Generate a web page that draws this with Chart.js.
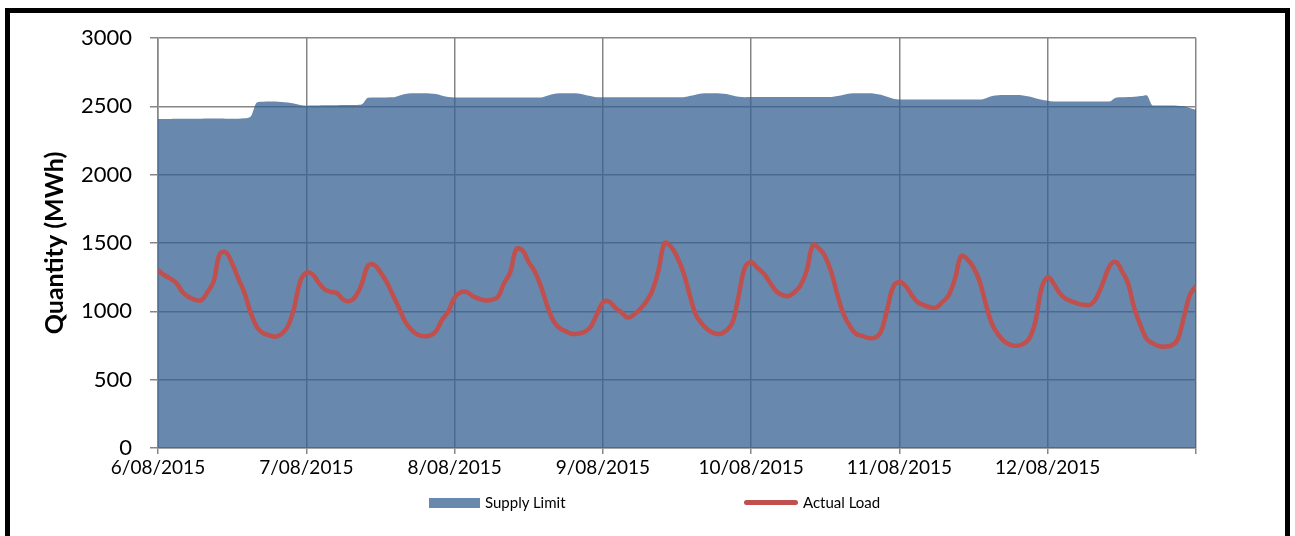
<!DOCTYPE html>
<html>
<head>
<meta charset="utf-8">
<script src="https://cdn.jsdelivr.net/npm/chart.js@4.4.1/dist/chart.umd.min.js"></script>
<style>
  html, body { margin: 0; padding: 0; background: #fff; }
  #wrap { position: relative; width: 1295px; height: 536px; overflow: hidden; }
  #frame { position: absolute; left: 5px; top: 8px; width: 1285px; height: 600px; border: 5px solid #000; box-sizing: border-box; }
  #chart { position: absolute; left: 0; top: 0; }
  .lg-text { position: absolute; font-family: Lato, sans-serif; font-size: 15px; color: #000; line-height: 15px; }
</style>
</head>
<body>
<div id="wrap">
  <div id="frame"></div>
  <canvas id="chart" width="1295" height="536"></canvas>
  <div style="position:absolute;left:429px;top:498px;width:51px;height:10px;background:#6888ad;"></div>
  <div class="lg-text" style="left:485px;top:495px;">Supply Limit</div>
  <div style="position:absolute;left:744px;top:500px;width:54px;height:5px;border-radius:3px;background:#c0504d;"></div>
  <div class="lg-text" style="left:803px;top:495px;">Actual Load</div>
</div>
<script>
// day labels under each midnight tick
const dayLabels = ['6/08/2015', '7/08/2015', '8/08/2015', '9/08/2015', '10/08/2015', '11/08/2015', '12/08/2015'];

// hourly values, 6/08 00:00 -> 13/08 00:00 (MWh)
const supplyLimit = [
  2408, 2408, 2408, 2409, 2409, 2410, 2410, 2410, 2411, 2411, 2411, 2410, 2410, 2410, 2412, 2425, 2528, 2533, 2535, 2535, 2532, 2528, 2520, 2510,
  2505, 2506, 2507, 2508, 2508, 2508, 2509, 2509, 2510, 2515, 2562, 2565, 2565, 2565, 2566, 2578, 2590, 2595, 2595, 2595, 2594, 2590, 2578, 2568,
  2565, 2565, 2565, 2565, 2565, 2565, 2565, 2565, 2565, 2565, 2565, 2565, 2565, 2565, 2565, 2578, 2590, 2595, 2595, 2595, 2593, 2585, 2575, 2567,
  2566, 2566, 2566, 2566, 2566, 2566, 2566, 2566, 2566, 2566, 2566, 2566, 2566, 2566, 2575, 2585, 2593, 2595, 2595, 2594, 2590, 2580, 2570, 2567,
  2568, 2568, 2568, 2568, 2568, 2568, 2568, 2568, 2568, 2568, 2568, 2568, 2568, 2568, 2575, 2585, 2593, 2595, 2595, 2595, 2592, 2585, 2570, 2555,
  2550, 2550, 2550, 2550, 2550, 2550, 2550, 2550, 2550, 2550, 2550, 2550, 2550, 2550, 2560, 2575, 2582, 2583, 2583, 2583, 2580, 2572, 2560, 2548,
  2540, 2536, 2536, 2536, 2536, 2536, 2536, 2536, 2536, 2536, 2536, 2563, 2566, 2568, 2570, 2575, 2582, 2507, 2507, 2507, 2506, 2505, 2500, 2488,
  2475
];
const actualLoad = [
  1302, 1265, 1240, 1205, 1140, 1105, 1085, 1080, 1140, 1217, 1420, 1430, 1350, 1240, 1135, 990, 885, 840, 825, 815, 835, 890, 1020, 1217,
  1283, 1271, 1210, 1160, 1142, 1132, 1085, 1075, 1110, 1205, 1335, 1340, 1285, 1215, 1120, 1025, 924, 865, 830, 818, 822, 855, 940, 1000,
  1100, 1140, 1140, 1110, 1092, 1080, 1085, 1105, 1205, 1285, 1455, 1445, 1360, 1290, 1180, 1040, 930, 876, 855, 836, 838, 848, 885, 975,
  1065, 1072, 1025, 993, 955, 975, 1015, 1070, 1150, 1300, 1500, 1475, 1400, 1290, 1130, 980, 910, 865, 840, 835, 860, 920, 1120, 1320,
  1360, 1319, 1278, 1215, 1150, 1120, 1112, 1140, 1190, 1300, 1485, 1460, 1400, 1282, 1115, 975, 890, 835, 820, 805, 806, 850, 1010, 1180,
  1215, 1185, 1119, 1065, 1045, 1030, 1030, 1070, 1120, 1240, 1405, 1380, 1320, 1217, 1050, 905, 830, 780, 755, 748, 760, 800, 924, 1168,
  1250, 1200, 1130, 1090, 1071, 1055, 1047, 1050, 1110, 1215, 1330, 1362, 1295, 1205, 1025, 900, 800, 765, 745, 742, 750, 790, 950, 1120,
  1185
];

const toPoints = arr => arr.map((v, i) => ({ x: i, y: v }));

const ctx = document.getElementById('chart').getContext('2d');
new Chart(ctx, {
  type: 'line',
  data: {
    datasets: [
      {
        label: 'Supply Limit',
        data: toPoints(supplyLimit),
        backgroundColor: 'rgba(54,96,146,0.75)',
        borderWidth: 0,
        fill: 'origin',
        pointRadius: 0,
        tension: 0.3,
        cubicInterpolationMode: 'monotone',
        order: 1
      },
      {
        label: 'Actual Load',
        data: toPoints(actualLoad),
        borderColor: '#c0504d',
        borderWidth: 4.5,
        fill: false,
        pointRadius: 0,
        tension: 0.4,
        order: 0
      }
    ]
  },
  options: {
    responsive: false,
    devicePixelRatio: 1,
    animation: false,
    layout: { padding: { left: 0, top: 38, right: 99, bottom: 0 } },
    plugins: {
      legend: { display: false },
      tooltip: { enabled: false }
    },
    scales: {
      x: {
        type: 'linear',
        min: 0,
        max: 168,
        grid: { color: '#868686', lineWidth: 1.5, tickLength: 6 },
        border: { color: '#868686', width: 1.5 },
        ticks: {
          stepSize: 24,
          autoSkip: false,
          maxRotation: 0,
          padding: 2,
          color: '#000',
          font: { family: 'Lato', size: 19 },
          callback: v => dayLabels[v / 24] || ''
        },
        afterFit: s => { s.height = 88; }
      },
      y: {
        min: 0,
        max: 3000,
        grid: { color: '#868686', lineWidth: 1.5, tickLength: 8 },
        border: { color: '#868686', width: 1.5 },
        ticks: {
          stepSize: 500,
          padding: 18,
          color: '#000',
          font: { family: 'Lato', size: 22 },
          callback: v => String(v)
        },
        title: {
          display: true,
          text: 'Quantity (MWh)',
          color: '#000',
          font: { family: 'Lato', size: 25, weight: 'bold' },
          padding: { top: 40, bottom: 0 }
        },
        afterFit: s => { s.width = 158; }
      }
    }
  }
});
</script>
</body>
</html>
